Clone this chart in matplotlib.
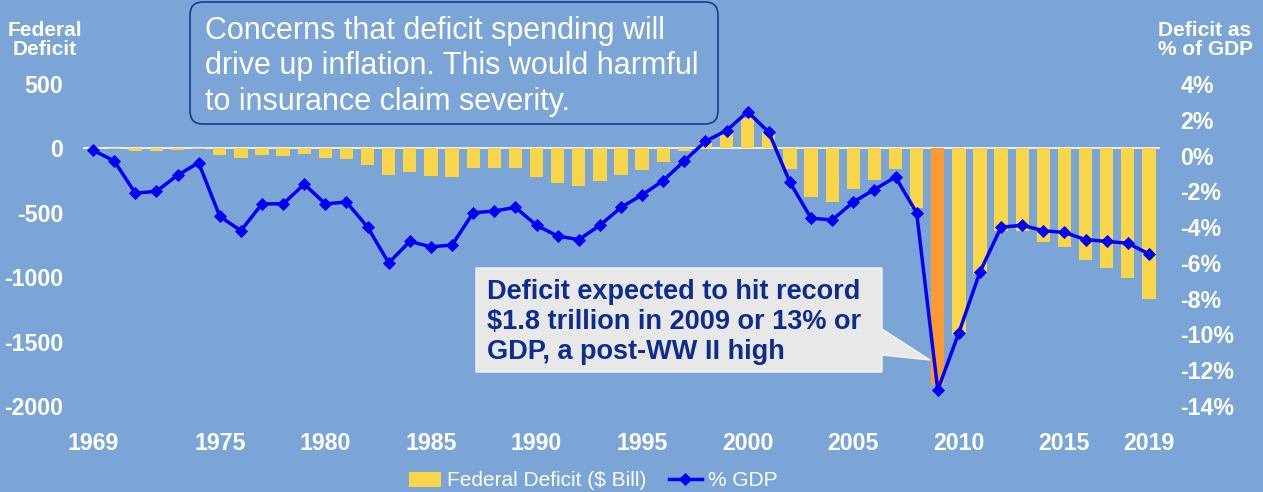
import matplotlib
matplotlib.use("Agg")
import matplotlib.pyplot as plt
import matplotlib.transforms as mtrans
from matplotlib.patches import FancyBboxPatch, Polygon, Patch
from matplotlib.lines import Line2D

plt.rcParams['font.family'] = ['Liberation Sans', 'DejaVu Sans']

# ---- data -------------------------------------------------------------
years = list(range(1969, 2020))

deficit_bn = [3, -3, -23, -23, -15, -6, -53, -74, -54, -59,
              -41, -74, -79, -128, -208, -185, -212, -221, -150, -155,
              -153, -221, -269, -290, -255, -203, -164, -107, -22, 69,
              126, 236, 128, -158, -378, -413, -318, -248, -161, -459,
              -1840, -1450, -975, -640, -645, -725, -765, -870, -925, -1005,
              -1170]

pct_gdp = [0.3, -0.3, -2.1, -2.0, -1.1, -0.4, -3.4, -4.2, -2.7, -2.7,
           -1.6, -2.7, -2.6, -4.0, -6.0, -4.8, -5.1, -5.0, -3.2, -3.1,
           -2.9, -3.9, -4.5, -4.7, -3.9, -2.9, -2.2, -1.4, -0.3, 0.8,
           1.4, 2.45, 1.3, -1.5, -3.5, -3.6, -2.6, -1.9, -1.2, -3.2,
           -13.1, -9.9, -6.5, -4.0, -3.9, -4.2, -4.3, -4.7, -4.8, -4.9,
           -5.5]

highlight_year = 2009
xtick_years = [1969, 1975, 1980, 1985, 1990, 1995, 2000, 2005, 2010, 2015, 2019]
left_ticks = [500, 0, -500, -1000, -1500, -2000]
right_ticks = [4, 2, 0, -2, -4, -6, -8, -10, -12, -14]

note_top = ("Concerns that deficit spending will\n"
            "drive up inflation. This would harmful\n"
            "to insurance claim severity.")
note_callout = ("Deficit expected to hit record\n"
                "$1.8 trillion in 2009 or 13% or\n"
                "GDP, a post-WW II high")

# ---- style ------------------------------------------------------------
BG = '#7BA5D7'
YELLOW = '#F9D54A'
ORANGE = '#FF9A33'
BLUE = '#0000F5'
NAVY = '#0E2C8C'
W, H = 1263, 492


def fx(x):
    return x / W


def fy(y):
    return 1 - y / H


fig = plt.figure(figsize=(W / 100, H / 100), dpi=100)
fig.patch.set_facecolor(BG)

ax = fig.add_axes([fx(82.5), fy(406), (1159.5 - 82.5) / W, (406 - 84) / H])
ax.set_facecolor(BG)
ax2 = ax.twinx()

for a in (ax, ax2):
    for s in a.spines.values():
        s.set_visible(False)

# bars (federal deficit, $ bn)
bar_colors = [ORANGE if y == highlight_year else YELLOW for y in years]
ax.axhline(0, color='white', lw=1.2, zorder=1)
ax.bar(years, deficit_bn, width=0.63, color=bar_colors, zorder=2)
ax.set_xlim(1968.5, 2019.5)
ax.set_ylim(-2000, 500)

# line (% of GDP)
ax2.plot(years, pct_gdp, color=BLUE, lw=2.5, marker='D', ms=6.4,
         mec=BLUE, mfc=BLUE, mew=0.6, zorder=3)
ax2.set_ylim(-14, 4)

tick_font = dict(fontsize=16.7, fontweight='bold', color='white')
ax.set_xticks(xtick_years)
ax.set_xticklabels([str(y) for y in xtick_years], **tick_font)
ax.set_yticks(left_ticks)
ax.set_yticklabels([str(v) for v in left_ticks], **tick_font)
ax2.set_yticks(right_ticks)
ax2.set_yticklabels([f"{v}%" for v in right_ticks], **tick_font)
ax.tick_params(axis='x', length=0, pad=19)
ax.tick_params(axis='y', length=0, pad=14)
ax2.tick_params(axis='y', length=0, pad=15)

# axis titles
fig.text(fx(45), fy(40), "Federal\nDeficit", ha='center', va='center',
         fontsize=15, fontweight='bold', color='white', linespacing=1.05)
fig.text(fx(1205), fy(40), "Deficit as\n% of GDP", ha='center', va='center',
         fontsize=15, fontweight='bold', color='white', linespacing=1.05)

# top note box (drawn in pixel units so the corners stay circular)
rbox = FancyBboxPatch((190, H - 124), 528, 122,
                      boxstyle='round,pad=0,rounding_size=13',
                      transform=mtrans.IdentityTransform(), facecolor=BG,
                      edgecolor='#1A3A8F', lw=1.2, zorder=5)
fig.patches.append(rbox)
# baseline alignment refers to the last line of a multi-line text
fig.text(fx(205), fy(110), note_top, ha='left', va='baseline', fontsize=22,
         color='white', linespacing=1.25, zorder=6)

# callout box pointing to the 2009 bar
callout = Polygon([(fx(476), fy(268)), (fx(882), fy(268)), (fx(882), fy(329)),
                   (fx(930), fy(360)), (fx(882), fy(355)), (fx(882), fy(372)),
                   (fx(476), fy(372))], closed=True, transform=fig.transFigure,
                  facecolor='#E8E8E8', edgecolor='#F4F4F4', lw=1.0, zorder=5)
fig.patches.append(callout)
fig.text(fx(487), fy(359), note_callout, ha='left', va='baseline',
         fontsize=19.5, fontweight='bold', color=NAVY, linespacing=1.2, zorder=6)

# legend
handles = [Patch(facecolor=YELLOW, edgecolor='none'),
           Line2D([0], [0], color=BLUE, lw=2.5, marker='D', ms=6.4, mew=0.6)]
leg = fig.legend(handles, ["Federal Deficit ($ Bill)", "% GDP"], ncol=2,
                 loc='center', bbox_to_anchor=(fx(593), fy(481)), frameon=False,
                 fontsize=15, handlelength=1.55, handleheight=0.7,
                 handletextpad=0.3, columnspacing=1.1, borderpad=0,
                 labelcolor='white')

fig.savefig('out.png', dpi=100, facecolor=BG)
